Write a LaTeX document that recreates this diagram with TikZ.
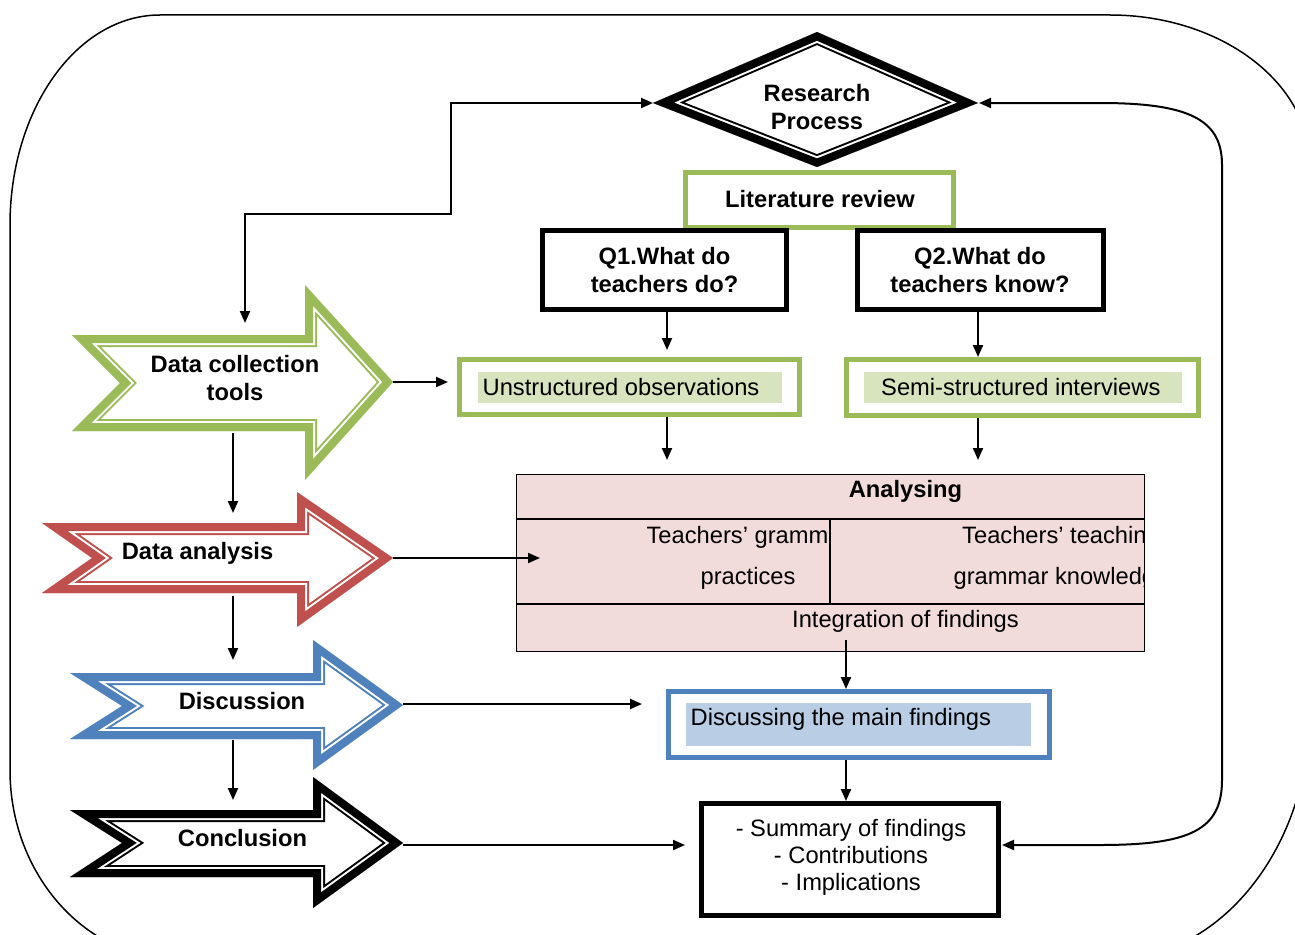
\documentclass[tikz,border=0pt]{standalone}
\usepackage{fontspec}
\setmainfont{Liberation Sans}
\usetikzlibrary{arrows.meta}
\definecolor{ogreen}{HTML}{9BBB59}
\definecolor{gfill}{HTML}{D7E4BD}
\definecolor{ored}{HTML}{C0504D}
\definecolor{oblue}{HTML}{4F81BD}
\definecolor{bfill}{HTML}{B9CDE5}
\definecolor{pfill}{HTML}{F2DCDB}
\newcommand{\thickthin}[2]{%
  \begin{scope}
    \clip #2;
    \draw[#1, line width=24pt, line join=miter] #2;
    \draw[white, line width=20pt, line join=miter] #2;
    \draw[#1, line width=16pt, line join=miter] #2;
  \end{scope}}
\tikzset{
  conn/.style={line width=2pt, -{Triangle[length=12pt,width=10pt]}},
  biconn/.style={line width=2pt, {Triangle[length=12pt,width=10pt]}-{Triangle[length=12pt,width=10pt]}},
  lbl/.style={font=\fontsize{23.7}{28}\selectfont\bfseries, align=center, inner sep=0pt},
  txt/.style={font=\fontsize{23.7}{28}\selectfont, inner sep=0pt},
  blackbox/.style={draw=black, line width=5pt, inner sep=0pt, fill=white},
  greenbox/.style={draw=ogreen, line width=5pt, inner sep=0pt, fill=white},
  bluebox/.style={draw=oblue, line width=5pt, inner sep=0pt, fill=white},
}
\begin{document}
\begin{tikzpicture}[x=1pt,y=-1pt]
\useasboundingbox (0,0) rectangle (1295,934);
\clip (0,0) rectangle (1295,934);
\fill[white] (0,0) rectangle (1295,934);

% outer frame
\draw[line width=1.5pt] (10,225) .. controls (10,109) and (77,15) .. (160,15)
  -- (1110,15) .. controls (1220,15) and (1310,82) .. (1310,165)
  -- (1310,710) .. controls (1310,848) and (1220,960) .. (1110,960)
  -- (180,960) .. controls (86,960) and (10,875) .. (10,770) -- cycle;

% Research process diamond
\thickthin{black}{(653,103) -- (817,32) -- (978,103) -- (817,167) -- cycle}
\node[lbl] (rp) at (817,107) {Research\\Process};
\coordinate (rpw) at (653,103);
\coordinate (rpe) at (979,103);

% Literature review
\node[greenbox, minimum width=268pt, minimum height=55pt] (lit) at (819.5,200) {};
\node[lbl] (litt) at (820,199) {Literature review};

% Questions
\node[blackbox, minimum width=244pt, minimum height=79pt] (q1) at (664.5,270) {};
\node[lbl] (q1t) at (664.5,270) {Q1.What do\\teachers do?};
\node[blackbox, minimum width=246pt, minimum height=79pt] (q2) at (980.5,270) {};
\node[lbl] (q2t) at (980,270) {Q2.What do\\teachers know?};

% Data boxes
\node[greenbox, minimum width=340pt, minimum height=55pt] (uo) at (629.5,387) {};
\fill[gfill] (478,372) rectangle (782,403);
\node[txt, anchor=base west] (uot) at (482.5,395) {Unstructured observations};
\node[greenbox, minimum width=352pt, minimum height=56pt] (si) at (1022.5,387.5) {};
\fill[gfill] (864,372) rectangle (1182,403);
\node[txt, anchor=base west] (sit) at (881,395) {Semi-structured interviews};

% Analysing table
\node[draw, fill=pfill, line width=1.5pt, minimum width=628pt, minimum height=177pt, inner sep=0pt] (tab) at (830.5,563) {};
\draw[line width=1.5pt] (tab.west |- 0,519) -- (tab.east |- 0,519);
\draw[line width=1.5pt] (tab.west |- 0,604) -- (tab.east |- 0,604);
\draw[line width=1.5pt] (830,519) -- (830,604);
\node[lbl, anchor=base] (ana) at (905.5,497) {Analysing};
\begin{scope}
  \clip (516,519) rectangle (830,604);
  \node[txt, anchor=base] (tg1) at (748,543) {Teachers’ grammar};
  \node[txt, anchor=base] (tg2) at (748,584) {practices};
\end{scope}
\begin{scope}
  \clip (830,519) rectangle (1144,604);
  \node[txt, anchor=base] (tk1) at (1061,543) {Teachers’ teaching};
  \node[txt, anchor=base] (tk2) at (1061,584) {grammar knowledge};
\end{scope}
\node[txt, anchor=base] (integ) at (905.5,627) {Integration of findings};

% Discussing
\node[bluebox, minimum width=381pt, minimum height=66pt] (dm) at (859,724.5) {};
\fill[bfill] (686,703) rectangle (1031,746);
\node[txt, anchor=base west] (dmt) at (690.5,725) {Discussing the main findings};

% Summary
\node[blackbox, minimum width=297pt, minimum height=112pt] (sum) at (850,859.5) {};
\node[txt, align=center, font=\fontsize{23.7}{27}\selectfont] (sumt) at (851,857) {- Summary of findings\\- Contributions\\- Implications};

% Left arrows
\thickthin{ogreen}{(72,335) -- (305,335) -- (305,285) -- (393,382) -- (305,480) -- (305,431) -- (72,431) -- (120,383) -- cycle}
\node[lbl] (dct) at (235,378) {Data collection\\tools};
\thickthin{ored}{(42,523) -- (297,523) -- (297,492) -- (393,558) -- (297,627) -- (297,593) -- (42,593) -- (92,558) -- cycle}
\node[lbl] (da) at (197.5,553) {Data analysis};
\thickthin{oblue}{(70,673) -- (313,673) -- (313,640) -- (403,705) -- (313,770) -- (313,739) -- (70,739) -- (122,706) -- cycle}
\node[lbl] (dis) at (242,701) {Discussion};
\thickthin{black}{(70,810) -- (313,810) -- (313,777) -- (403,843) -- (313,908) -- (313,877) -- (70,877) -- (122,843) -- cycle}
\node[lbl] (con) at (242.5,838) {Conclusion};

\coordinate (dcttip) at (393,382);
\coordinate (dcttop) at (245,323);
\coordinate (dctbot) at (233,433);
\coordinate (datop) at (233,513);
\coordinate (datip) at (393,558);
\coordinate (dabot) at (233,596);
\coordinate (distop) at (233,660);
\coordinate (distip) at (403,704);
\coordinate (disbot) at (233,740);
\coordinate (contop) at (233,800);
\coordinate (contip) at (403,845);
\coordinate (axA) at (846,640);
\coordinate (uoin) at (448,382);
\coordinate (tabin) at (540,558);
\coordinate (dmin) at (642,704);
\coordinate (sumin) at (685,845);
\coordinate (sumr) at (1002,845);

% connectors
\draw[biconn] (rpw) -- (451,103) -- (451,214) -- (245,214) -- (dcttop);
\draw[biconn] (rpe) -- (1100,103) .. controls (1190,103) and (1222,120) .. (1222,165)
  -- (1222,780) .. controls (1222,830) and (1190,845) .. (1100,845) -- (sumr);
\draw[conn, shorten >=7pt] (667,312) -- (667,357);
\draw[conn] (978,312) -- (978,357);
\draw[conn] (667,417) -- (667,460);
\draw[conn] (978,418) -- (978,460);
\draw[conn] (axA) -- (axA |- dm.north);
\draw[conn] (dm.south -| axA) -- (sum.north -| axA);

\draw[conn] (dcttip) -- (uoin);
\draw[conn] (dctbot) -- (datop);
\draw[conn] (datip) -- (tabin);
\draw[conn] (dabot) -- (distop);
\draw[conn] (distip) -- (dmin);
\draw[conn] (disbot) -- (contop);
\draw[conn] (contip) -- (sumin);
\end{tikzpicture}
\end{document}
